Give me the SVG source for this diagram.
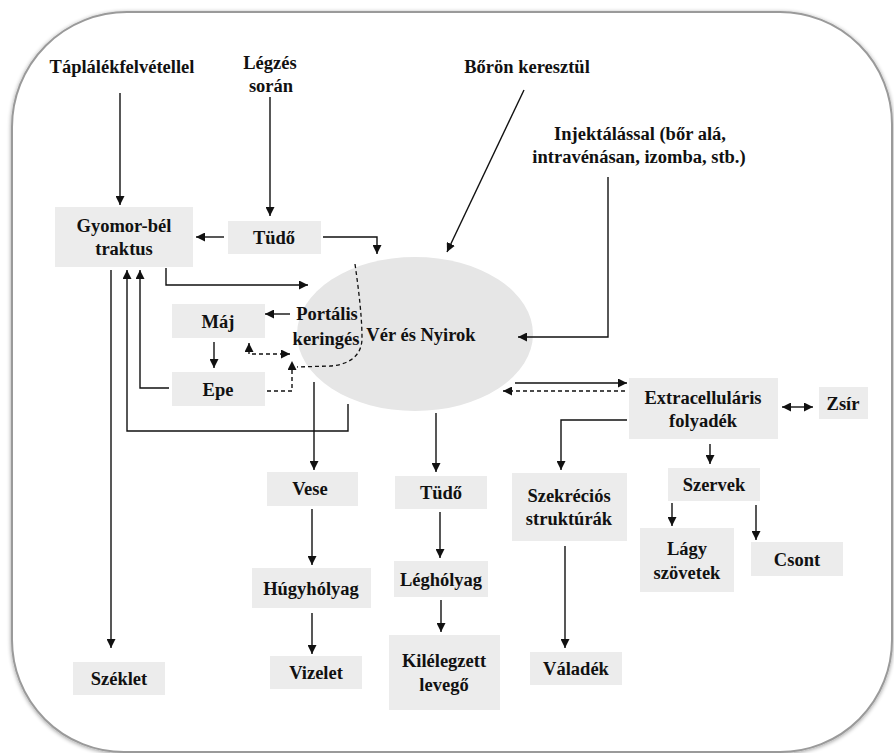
<svg xmlns="http://www.w3.org/2000/svg" width="894" height="753" viewBox="0 0 894 753">
<defs>
<marker id="ah" viewBox="0 0 10 10" refX="10" refY="5" markerWidth="9" markerHeight="9" markerUnits="userSpaceOnUse" orient="auto-start-reverse"><path d="M0,0 L10,5 L0,10 z" fill="#111"/></marker>
<filter id="sh" x="-5%" y="-5%" width="110%" height="110%"><feGaussianBlur in="SourceAlpha" stdDeviation="2"/><feOffset dx="0" dy="1"/><feComponentTransfer><feFuncA type="linear" slope="0.4"/></feComponentTransfer><feMerge><feMergeNode/><feMergeNode in="SourceGraphic"/></feMerge></filter>
</defs>
<style>
text{font-family:"Liberation Serif","Times New Roman","DejaVu Serif",serif;font-weight:700;font-size:18.5px;fill:#111;text-anchor:middle}
.b{fill:#ececec}
.c{fill:none;stroke:#111;stroke-width:1.4}
.a{marker-end:url(#ah)}
.d{stroke-dasharray:4,3}
.s{marker-start:url(#ah)}
</style>
<rect width="894" height="753" fill="#fff"/>
<path id="frame" d="M127,12 H780 A112,112 0 0 1 892,124 V640 A112,112 0 0 1 780,752 H124 A112,112 0 0 1 12,640 V127 A115,115 0 0 1 127,12 Z" fill="#fff" stroke="#9a9a9a" stroke-width="2" filter="url(#sh)"/>

<g id="src-tap"><text x="122" y="73">Táplálékfelvétellel</text></g>
<g id="src-legzes"><text x="270" y="69">Légzés</text><text x="271" y="92">során</text></g>
<g id="src-boron"><text x="527" y="73">Bőrön keresztül</text></g>
<g id="src-inj"><text x="640" y="140">Injektálással (bőr alá,</text><text x="639" y="163">intravénásan, izomba, stb.)</text></g>

<g id="ver"><ellipse cx="415" cy="334" rx="118" ry="77" fill="#e6e6e6"/><text x="421" y="341">Vér és Nyirok</text></g>
<g id="portalis"><path d="M355,264 C359,292 362,318 362,338 C362,358 346,365 330,366 L297,367" fill="none" stroke="#111" stroke-width="1.3" stroke-dasharray="4,3"/><text x="327" y="320">Portális</text><text x="326" y="345">keringés</text></g>

<g id="gyomor"><rect class="b" x="55" y="207" width="138" height="60"/><text x="124" y="232">Gyomor-bél</text><text x="124" y="255">traktus</text></g>
<g id="tudo1"><rect class="b" x="228" y="221" width="93" height="33"/><text x="274" y="244">Tüdő</text></g>
<g id="maj"><rect class="b" x="172" y="304" width="93" height="34"/><text x="218" y="328">Máj</text></g>
<g id="epe"><rect class="b" x="172" y="372" width="93" height="34"/><text x="218" y="396">Epe</text></g>
<g id="szeklet"><rect class="b" x="73" y="662" width="92" height="33"/><text x="119" y="685">Széklet</text></g>
<g id="vese"><rect class="b" x="267" y="472" width="91" height="34"/><text x="310" y="495">Vese</text></g>
<g id="hugy"><rect class="b" x="252" y="568" width="119" height="40"/><text x="311" y="595">Húgyhólyag</text></g>
<g id="vizelet"><rect class="b" x="270" y="656" width="92" height="33"/><text x="316" y="679">Vizelet</text></g>
<g id="tudo2"><rect class="b" x="395" y="476" width="92" height="33"/><text x="441" y="499">Tüdő</text></g>
<g id="legh"><rect class="b" x="394" y="561" width="94" height="36"/><text x="441" y="586">Léghólyag</text></g>
<g id="kil"><rect class="b" x="389" y="635" width="111" height="75"/><text x="444" y="667">Kilélegzett</text><text x="444" y="691">levegő</text></g>
<g id="extra"><rect class="b" x="629" y="378" width="149" height="61"/><text x="703" y="404">Extracelluláris</text><text x="703" y="427">folyadék</text></g>
<g id="zsir"><rect class="b" x="819" y="387" width="49" height="32"/><text x="843" y="410">Zsír</text></g>
<g id="szek"><rect class="b" x="512" y="473" width="115" height="68"/><text x="569" y="502">Szekréciós</text><text x="569" y="525">struktúrák</text></g>
<g id="valadek"><rect class="b" x="530" y="652" width="92" height="33"/><text x="576" y="675">Váladék</text></g>
<g id="szervek"><rect class="b" x="668" y="468" width="92" height="33"/><text x="714" y="491">Szervek</text></g>
<g id="lagy"><rect class="b" x="640" y="528" width="94" height="64"/><text x="687" y="555">Lágy</text><text x="687" y="579">szövetek</text></g>
<g id="csont"><rect class="b" x="751" y="542" width="92" height="34"/><text x="797" y="566">Csont</text></g>

<g id="connectors">
<path class="c a" d="M120,93 V205"/>
<path class="c a" d="M270,97 V216"/>
<path class="c a" d="M224,237 H196"/>
<path class="c a" d="M323,237 H377 V254"/>
<path class="c a" d="M166,268 V285 H308"/>
<path class="c a" d="M524,90 L447,252"/>
<path class="c a" d="M608,177 V337 H518"/>
<path class="c a" d="M290,314 H265"/>
<path class="c a" d="M214,342 V368"/>
<path class="c a s d" d="M249,343 V354 H290"/>
<path class="c a d" d="M267,391 H292 V361"/>
<path class="c a" d="M169,388 H140 V270"/>
<path class="c a" d="M348,404 V431 H127 V270"/>
<path class="c a" d="M111,270 V648"/>
<path class="c a" d="M314,382 V470"/>
<path class="c a" d="M312,509 V565"/>
<path class="c a" d="M312,613 V654"/>
<path class="c a" d="M436,413 V472"/>
<path class="c a" d="M440,512 V558"/>
<path class="c a" d="M441,600 V632"/>
<path class="c a" d="M515,383 H627"/>
<path class="c a d" d="M625,391 H503"/>
<path class="c a s" d="M782,407 H813"/>
<path class="c a" d="M627,420 H561 V470"/>
<path class="c a" d="M565,546 V648"/>
<path class="c a" d="M710,444 V464"/>
<path class="c a" d="M672,503 V526"/>
<path class="c a" d="M756,505 V540"/>
</g>
</svg>
